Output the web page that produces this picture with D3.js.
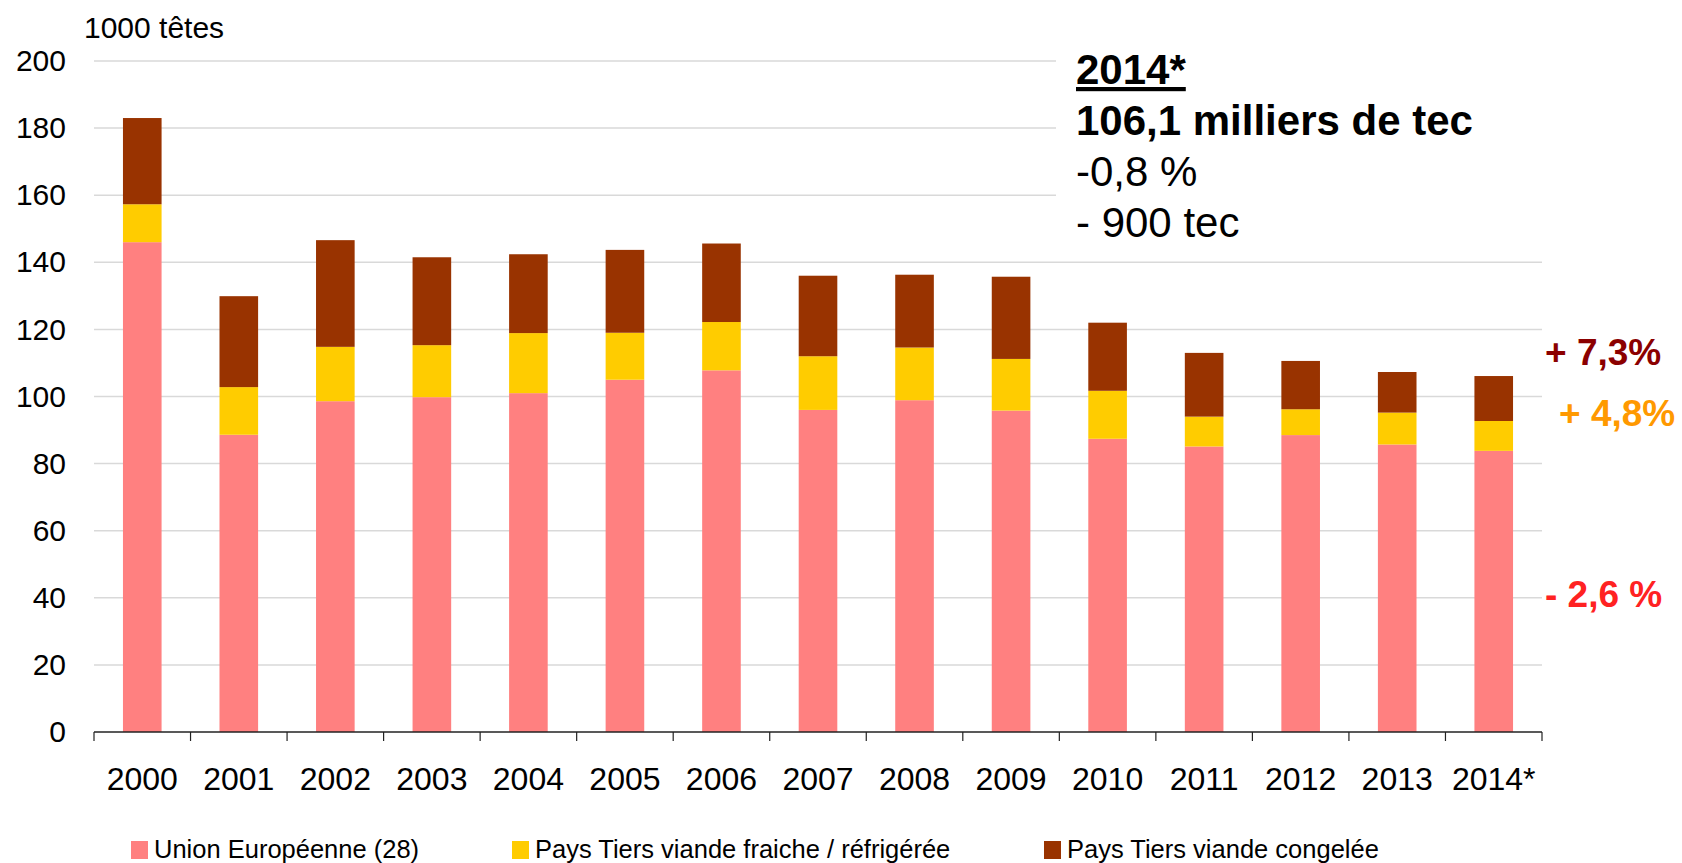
<!DOCTYPE html>
<style>
body { margin: 0; background: #fff; }
text { font-family: "Liberation Sans", Arial, sans-serif; }
.axis .domain { display: none; }
</style>
<svg width="1682" height="863"></svg>
<script src="https://d3js.org/d3.v7.min.js"></script>
<script>

// annees (categories)
var years = ["2000", "2001", "2002", "2003", "2004", "2005", "2006", "2007",
             "2008", "2009", "2010", "2011", "2012", "2013", "2014*"];

// series, 1000 tetes
var ue       = [146.0, 88.6, 98.6, 99.8, 101.0, 105.0, 107.8, 96.0, 98.9, 95.8, 87.4, 85.1, 88.5, 85.7, 83.8];
var fraiche  = [11.3, 14.2, 16.2, 15.5, 17.9, 14.0, 14.4, 16.0, 15.7, 15.4, 14.3, 8.9, 7.7, 9.5, 8.9];
var congelee = [25.7, 27.1, 31.8, 26.2, 23.5, 24.7, 23.4, 24.0, 21.7, 24.5, 20.3, 19.0, 14.4, 12.1, 13.4];

var seriesNames = ["Union Européenne (28)", "Pays Tiers viande fraiche / réfrigérée", "Pays Tiers viande congelée"];
var seriesColors = ["#ff8080", "#ffcc00", "#993300"];

var yTicks = [0, 20, 40, 60, 80, 100, 120, 140, 160, 180, 200];

var summary = ["2014*", "106,1 milliers de tec", "-0,8 %", "- 900 tec"];
var variations = [
  {label: "+ 7,3%", color: "#8b0000", y: 352, x: 1545},
  {label: "+ 4,8%", color: "#ff9900", y: 413, x: 1559},
  {label: "- 2,6 %", color: "#ff2222", y: 594, x: 1545}
];

var svg = d3.select("svg"),
    margin = {top: 61, right: 140, bottom: 131, left: 94},
    width = +svg.attr("width") - margin.left - margin.right,
    height = +svg.attr("height") - margin.top - margin.bottom,
    g = svg.append("g").attr("transform", "translate(" + margin.left + "," + margin.top + ")");

var data = years.map(function(d, i) {
  return {year: d, ue: ue[i], fraiche: fraiche[i], congelee: congelee[i]};
});
var keys = ["ue", "fraiche", "congelee"];

var x = d3.scaleBand()
    .domain(years)
    .range([0, width])
    .paddingInner(0.6)
    .paddingOuter(0.3);

var y = d3.scaleLinear()
    .domain([0, 200])
    .range([height, 0]);

var z = d3.scaleOrdinal().domain(keys).range(seriesColors);

// grid lines
g.append("g")
  .selectAll("line")
  .data(yTicks.slice(1))
  .enter().append("line")
    .attr("x1", 0)
    .attr("x2", width)
    .attr("y1", function(d) { return y(d); })
    .attr("y2", function(d) { return y(d); })
    .attr("stroke", "#d9d9d9")
    .attr("stroke-width", 1.5);

// white box behind the 2014 summary hides the grid
svg.append("rect")
    .attr("x", 1056)
    .attr("y", 40)
    .attr("width", 626)
    .attr("height", 205)
    .attr("fill", "#fff");

// stacked bars
g.append("g")
  .selectAll("g")
  .data(d3.stack().keys(keys)(data))
  .enter().append("g")
    .attr("fill", function(d) { return z(d.key); })
  .selectAll("rect")
  .data(function(d) { return d; })
  .enter().append("rect")
    .attr("x", function(d) { return x(d.data.year); })
    .attr("y", function(d) { return y(d[1]); })
    .attr("height", function(d) { return y(d[0]) - y(d[1]); })
    .attr("width", x.bandwidth());

// x axis
g.append("g")
    .attr("class", "axis")
    .attr("transform", "translate(0," + height + ")")
    .call(d3.axisBottom(x).tickSize(0).tickPadding(35))
    .call(function(a) {
      a.selectAll("text").attr("font-size", 32).attr("fill", "#000")
        .style("font-family", "'Liberation Sans', Arial, sans-serif");
    });

g.append("line")
    .attr("x1", 0).attr("x2", width)
    .attr("y1", height).attr("y2", height)
    .attr("stroke", "#222").attr("stroke-width", 1.5);

// ticks between categories
var bounds = years.map(function(d) { return x(d) - x.step() * x.paddingOuter(); });
bounds.push(width);
g.append("g")
  .selectAll("line")
  .data(bounds)
  .enter().append("line")
    .attr("x1", function(d) { return d; })
    .attr("x2", function(d) { return d; })
    .attr("y1", height)
    .attr("y2", height + 9)
    .attr("stroke", "#222")
    .attr("stroke-width", 1.2);

// y axis
g.append("g")
    .attr("class", "axis")
    .call(d3.axisLeft(y).tickValues(yTicks).tickSize(0).tickPadding(28))
    .call(function(a) {
      a.selectAll("text").attr("font-size", 30).attr("fill", "#000")
        .style("font-family", "'Liberation Sans', Arial, sans-serif");
    });

svg.append("text")
    .attr("x", 84)
    .attr("y", 38)
    .attr("font-size", 30)
    .text("1000 têtes");

// summary 2014
var sum = svg.append("g").attr("transform", "translate(1076,0)");
sum.selectAll("text")
  .data(summary)
  .enter().append("text")
    .attr("x", 0)
    .attr("y", function(d, i) { return 84 + i * 51; })
    .attr("font-size", 42)
    .attr("font-weight", function(d, i) { return i < 2 ? "bold" : "normal"; })
    .attr("text-decoration", function(d, i) { return i === 0 ? "underline" : null; })
    .text(function(d) { return d; });

// variations
svg.append("g")
  .selectAll("text")
  .data(variations)
  .enter().append("text")
    .attr("x", function(d) { return d.x; })
    .attr("y", function(d) { return d.y + 13; })
    .attr("font-size", 37)
    .attr("font-weight", "bold")
    .attr("fill", function(d) { return d.color; })
    .text(function(d) { return d.label; });

// legend
var legendX = [131, 512, 1044];
var legend = svg.append("g")
  .selectAll("g")
  .data(seriesNames)
  .enter().append("g")
    .attr("transform", function(d, i) { return "translate(" + legendX[i] + ",841)"; });

legend.append("rect")
    .attr("width", 17)
    .attr("height", 18)
    .attr("fill", function(d, i) { return seriesColors[i]; });

legend.append("text")
    .attr("x", 23)
    .attr("y", 17)
    .attr("font-size", 25.5)
    .text(function(d) { return d; });

</script>
